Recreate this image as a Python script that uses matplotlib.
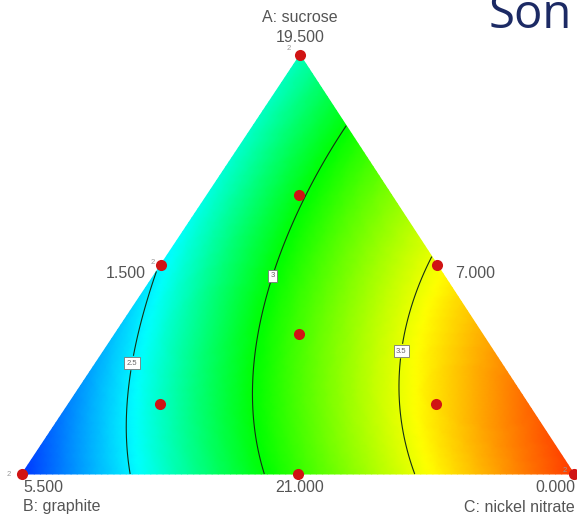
import numpy as np
import matplotlib
matplotlib.use("Agg")
import matplotlib.pyplot as plt
import matplotlib.tri as mtri
from matplotlib.colors import LinearSegmentedColormap

plt.rcParams["font.family"] = ["Liberation Sans", "DejaVu Sans"]

# Mixture model (pseudo-components A, B, C)
coef_linear = [2.66, 2.06, 3.96]      # A, B, C
coef_pairs = [0.60, 0.86, 0.43]       # AB, AC, BC
coef_abc = 1.30
contour_levels = [2.5, 3.0, 3.5]
contour_text = {2.5: "2.5", 3.0: "3", 3.5: "3.5"}

# Design points (pseudo-components)
design_a = [1, 0, 0, 1/2, 1/2, 0, 2/3, 1/6, 1/6, 1/3]
design_b = [0, 1, 0, 1/2, 0, 1/2, 1/6, 2/3, 1/6, 1/3]
design_c = [0, 0, 1, 0, 1/2, 1/2, 1/6, 1/6, 2/3, 1/3]

# Axis texts
axis_names = ["A: sucrose", "B: graphite", "C: nickel nitrate"]
vertex_ticks = ["19.500", "5.500", "0.000"]
edge_ticks = ["1.500", "7.000", "21.000"]   # AB, AC, BC midpoints

# Layout: triangle corners in pixel coordinates
top = np.array([300, 55])
left = np.array([22, 474])
right = np.array([574, 474])


def to_xy(a, b, c):
    a, b, c = np.asarray(a), np.asarray(b), np.asarray(c)
    x = a * top[0] + b * left[0] + c * right[0]
    y = a * top[1] + b * left[1] + c * right[1]
    return x, y


def response(a, b, c):
    return (coef_linear[0] * a + coef_linear[1] * b + coef_linear[2] * c
            + coef_pairs[0] * a * b + coef_pairs[1] * a * c + coef_pairs[2] * b * c
            + coef_abc * a * b * c)


# Barycentric grid
n = 90
aa, bb = [], []
for i in range(n + 1):
    for j in range(n + 1 - i):
        aa.append(i / n)
        bb.append(j / n)
aa = np.array(aa)
bb = np.array(bb)
cc = np.clip(1 - aa - bb, 0, 1)
gx, gy = to_xy(aa, bb, cc)
z = response(aa, bb, cc)
tri = mtri.Triangulation(gx, gy)

cmap = LinearSegmentedColormap.from_list(
    "de", [(0, "#0000ff"), (0.28, "#00ffff"), (0.5, "#00ff00"),
           (0.75, "#ffff00"), (1, "#ff0000")])

fig = plt.figure(figsize=(5.77, 5.29), dpi=100)
ax = fig.add_axes([0, 0, 1, 1])
ax.set_xlim(0, 577)
ax.set_ylim(529, 0)
ax.axis("off")

ax.tripcolor(tri, z, shading="gouraud", cmap=cmap, vmin=1.93, vmax=4.09)
cs = ax.tricontour(tri, z, levels=contour_levels, colors="#143014", linewidths=0.8)
labels = ax.clabel(cs, fmt=contour_text, fontsize=5.5, inline=True, inline_spacing=2,
                   manual=[(132, 363), (279, 278), (408, 352)])
for t in labels:
    t.set_rotation(0)
    t.set_color("#666666")
    t.set_bbox(dict(boxstyle="square,pad=0.3", fc="white", ec="#777777", lw=0.6))

# design points
px, py = to_xy(design_a, design_b, design_c)
ax.plot(px, py, "o", color="#d01414", markersize=8, markeredgewidth=0, clip_on=False)

# replicate marks
for x, y in [(289, 48), (153, 262), (9, 475), (565, 471)]:
    ax.text(x, y, "2", fontsize=5.5, color="#999999", ha="center", va="center")

# texts
tc = "#555555"
fs = 11.5
ax.text(300, 18, axis_names[0], fontsize=fs, color=tc, ha="center", va="center")
ax.text(300, 38, vertex_ticks[0], fontsize=fs, color=tc, ha="center", va="center")
ax.text(23, 487, vertex_ticks[1], fontsize=fs, color=tc, ha="left", va="center")
ax.text(23, 507, axis_names[1], fontsize=fs, color=tc, ha="left", va="center")
ax.text(575, 487, vertex_ticks[2], fontsize=fs, color=tc, ha="right", va="center")
ax.text(575, 507, axis_names[2], fontsize=fs, color=tc, ha="right", va="center")
ax.text(146, 273, edge_ticks[0], fontsize=fs, color=tc, ha="right", va="center")
ax.text(455, 273, edge_ticks[1], fontsize=fs, color=tc, ha="left", va="center")
ax.text(300, 487, edge_ticks[2], fontsize=fs, color=tc, ha="center", va="center")

ax.text(489, 28, "Son", fontsize=34, color="#1c2a64", family="Open Sans",
        ha="left", va="baseline")

fig.savefig("out.png", dpi=100)
